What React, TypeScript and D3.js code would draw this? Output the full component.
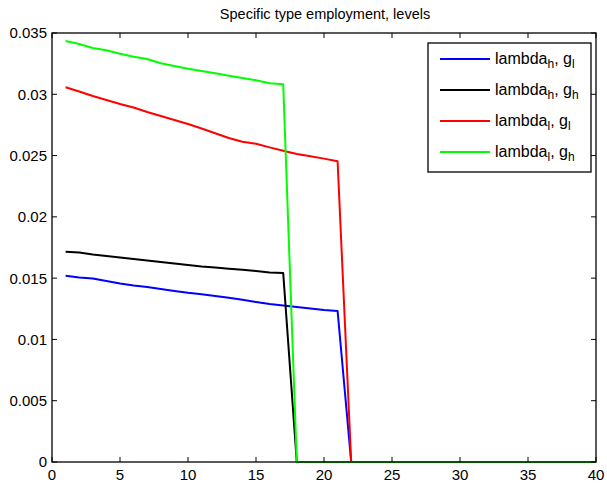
import React from 'react';
import * as d3 from 'd3';

const title = 'Specific type employment, levels';
const periods = d3.range(1, 41);

// values; zeros after the drop
const lambdaHgL = [0.0152, 0.01505, 0.01497, 0.01477, 0.01456, 0.0144, 0.01428, 0.01411, 0.01395, 0.0138,
  0.01368, 0.01354, 0.0134, 0.01323, 0.01305, 0.01289, 0.01277, 0.01265, 0.01252, 0.0124, 0.01232];
const lambdaHgH = [0.01716, 0.01709, 0.01693, 0.01681, 0.01668, 0.01656, 0.01644, 0.01632, 0.01619, 0.01607,
  0.01595, 0.01587, 0.01577, 0.01568, 0.01558, 0.01546, 0.01542];
const lambdaLgL = [0.03057, 0.03023, 0.02986, 0.02953, 0.02921, 0.02892, 0.02855, 0.02823, 0.0279, 0.02757,
  0.02721, 0.02682, 0.02643, 0.02613, 0.02597, 0.02567, 0.0254, 0.02513, 0.02494, 0.02475, 0.02453];
const lambdaLgH = [0.03435, 0.0341, 0.03378, 0.03359, 0.03331, 0.03307, 0.03288, 0.03253, 0.03231, 0.03209,
  0.0319, 0.03171, 0.03152, 0.03133, 0.03114, 0.0309, 0.03082];

const xTicks = [0, 5, 10, 15, 20, 25, 30, 35, 40];
const yTicks = [0, 0.005, 0.01, 0.015, 0.02, 0.025, 0.03, 0.035];
const yTickLabels = ['0', '0.005', '0.01', '0.015', '0.02', '0.025', '0.03', '0.035'];

const series = [
  { name: ['lambda', 'h', ', g', 'l'], values: lambdaHgL, color: '#0000ff' },
  { name: ['lambda', 'h', ', g', 'h'], values: lambdaHgH, color: '#000000' },
  { name: ['lambda', 'l', ', g', 'l'], values: lambdaLgL, color: '#ff0000' },
  { name: ['lambda', 'l', ', g', 'h'], values: lambdaLgH, color: '#00ff00' },
];

const width = 607;
const height = 485;
const margin = { top: 33, right: 11, bottom: 23, left: 52 };
const font = '"Liberation Sans", Arial, Helvetica, sans-serif';

export default function App() {
  const innerW = width - margin.left - margin.right;
  const innerH = height - margin.top - margin.bottom;

  const x = d3.scaleLinear().domain([0, 40]).range([0, innerW]);
  const y = d3.scaleLinear().domain([0, 0.035]).range([innerH, 0]);

  const line = d3.line<[number, number]>()
    .x(d => x(d[0]))
    .y(d => y(d[1]));

  const pts = (vals: number[]) =>
    periods.map((p, i) => [p, i < vals.length ? vals[i] : 0] as [number, number]);

  const tick = 5;
  const legendX = 428 - margin.left;
  const legendY = 43 - margin.top;

  return (
    <svg width={width} height={height} style={{ position: 'absolute', left: 0, top: 0, background: '#fff' }}
      fontFamily={font}>
      <text x={325} y={19} textAnchor="middle" fontSize={14.5}>{title}</text>
      <g transform={`translate(${margin.left},${margin.top})`}>
        {series.map(s => (
          <path key={s.color} d={line(pts(s.values)) ?? ''} fill="none" stroke={s.color}
            strokeWidth={2} strokeLinejoin="round" />
        ))}

        <rect x={0} y={0} width={innerW} height={innerH} fill="none" stroke="#000" strokeWidth={1.3} />

        {xTicks.map(t => (
          <g key={'x' + t}>
            <line x1={x(t)} x2={x(t)} y1={innerH} y2={innerH - tick} stroke="#000" />
            <line x1={x(t)} x2={x(t)} y1={0} y2={tick} stroke="#000" />
            <text x={x(t)} y={innerH + 18} textAnchor="middle" fontSize={15}>{t}</text>
          </g>
        ))}
        {yTicks.map((t, i) => (
          <g key={'y' + t}>
            <line x1={0} x2={tick} y1={y(t)} y2={y(t)} stroke="#000" />
            <line x1={innerW} x2={innerW - tick} y1={y(t)} y2={y(t)} stroke="#000" />
            <text x={-5} y={y(t)} dy="0.36em" textAnchor="end" fontSize={15}>{yTickLabels[i]}</text>
          </g>
        ))}

        <g transform={`translate(${legendX},${legendY})`}>
          <rect x={0} y={0} width={163} height={129} fill="#fff" stroke="#000" strokeWidth={1.3} />
          {series.map((s, i) => {
            const ly = 16 + i * 31;
            return (
              <g key={'l' + i}>
                <line x1={12} x2={62} y1={ly} y2={ly} stroke={s.color} strokeWidth={2} />
                <text x={67} y={ly + 5} fontSize={16}>
                  {s.name[0]}
                  <tspan dy={4} fontSize={12}>{s.name[1]}</tspan>
                  <tspan dy={-4}>{s.name[2]}</tspan>
                  <tspan dy={4} fontSize={12}>{s.name[3]}</tspan>
                </text>
              </g>
            );
          })}
        </g>
      </g>
    </svg>
  );
}
